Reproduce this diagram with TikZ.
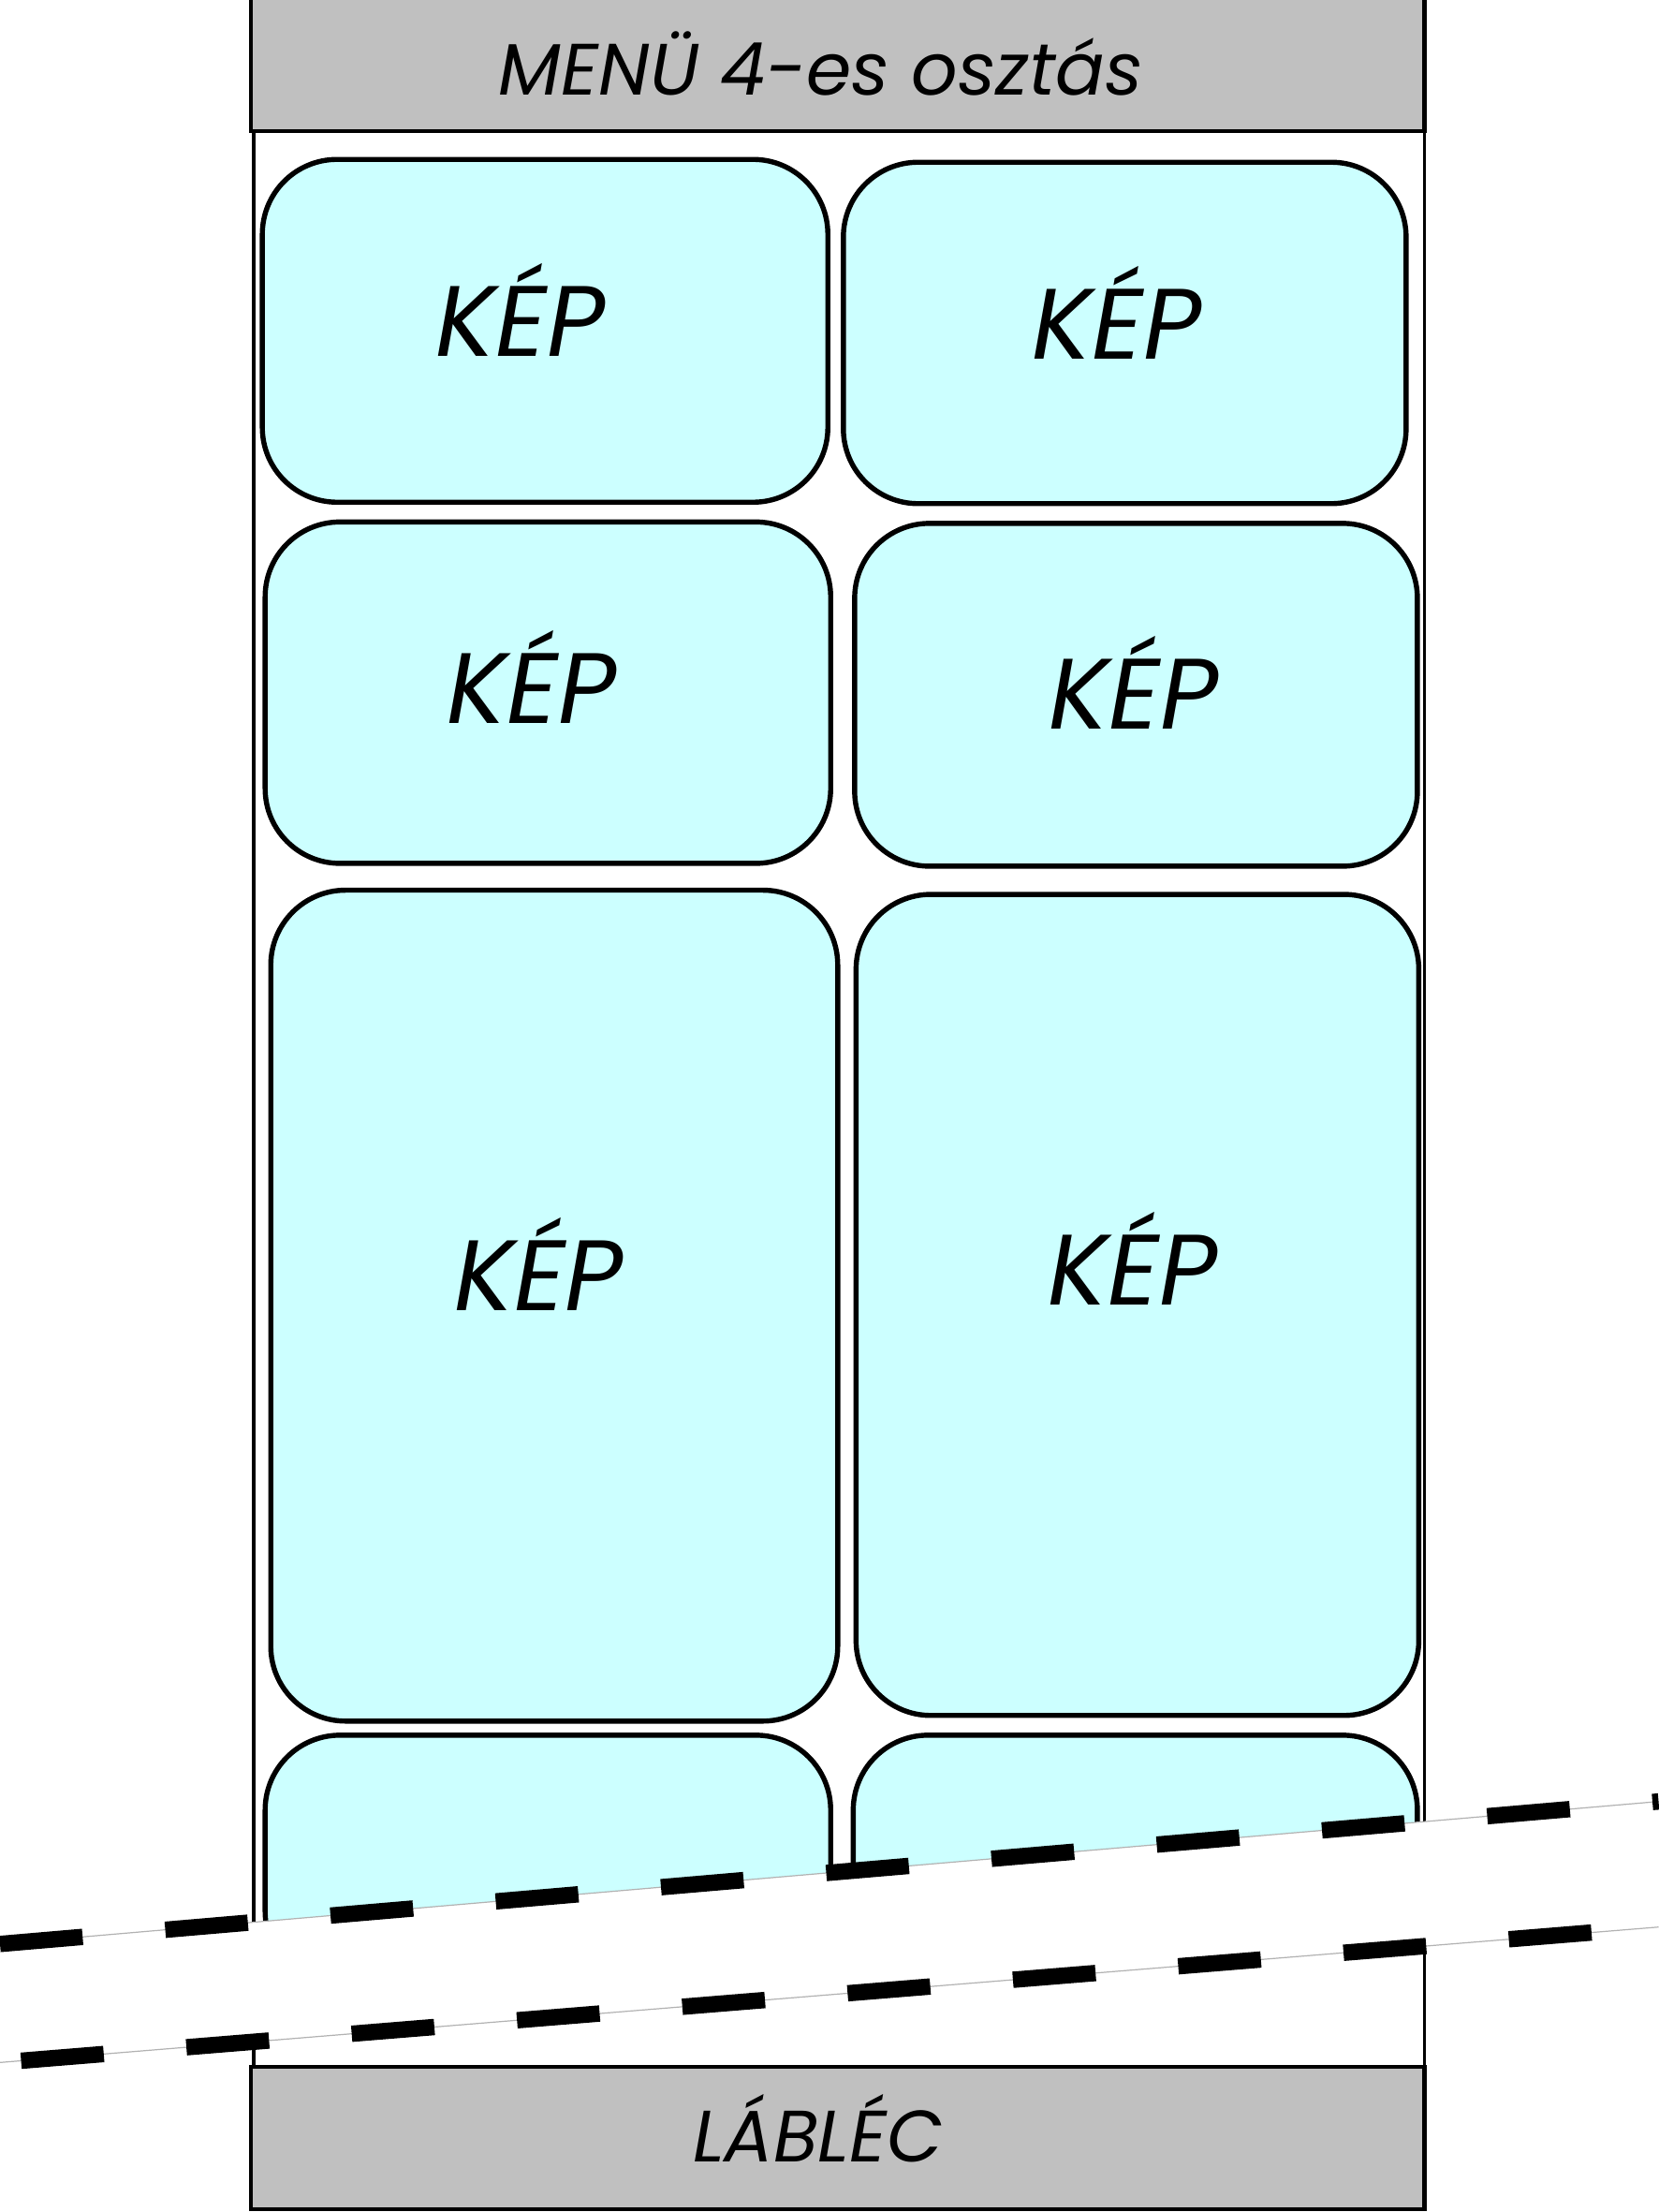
\documentclass[tikz,border=0pt]{standalone}
\usepackage{fontspec}
\newfontfamily\kepfont{Poppins}
\definecolor{kepfill}{HTML}{CCFFFF}
\definecolor{barfill}{HTML}{C0C0C0}
\begin{document}
\begin{tikzpicture}[x=0.5pt,y=-0.5pt,
  kepbox/.style={draw=black, line width=1.8pt, fill=kepfill, rounded corners=26.5pt},
  barbox/.style={draw=black, line width=1.4pt, fill=barfill},
  frameline/.style={draw=black, line width=1.2pt},
  bandfill/.style={fill=white, draw=none},
  bandedge/.style={draw=black!30, line width=0.4pt},
  breakdash/.style={draw=black, line width=5.8pt, dash pattern=on 29.4pt off 29.4pt},
  keptext/.style={font=\kepfont\itshape\fontsize{35.5}{40}\selectfont, inner sep=0pt},
  bartext/.style={font=\kepfont\itshape\fontsize{25.8}{30}\selectfont, inner sep=0pt}]
\useasboundingbox (0,0) rectangle (1176,1568);
% header and footer
\draw[barbox] (178,-4) rectangle (1010,93);
\node[bartext] (menu) at (582,45) {MENÜ 4-es osztás};
\draw[barbox] (178,1465) rectangle (1010,1566);
\node[bartext] (lablec) at (580,1509) {LÁBLÉC};
% body frame
\draw[frameline] (180,93) -- (180,1465);
\draw[frameline] (1010,93) -- (1010,1465);
% picture boxes
\draw[kepbox] (186,113) rectangle (587,356);
\draw[kepbox] (598,115) rectangle (997,357);
\draw[kepbox] (188,370) rectangle (589,612);
\draw[kepbox] (606,371) rectangle (1005,614);
\draw[kepbox] (192,631) rectangle (594,1220);
\draw[kepbox] (607,634) rectangle (1006,1216);
\draw[kepbox] (188,1230) rectangle (589,1408);
\draw[kepbox] (605,1230) rectangle (1005,1378);
\node[keptext] (k1) at (369,220) {KÉP};
\node[keptext] (k2) at (792,222) {KÉP};
\node[keptext] (k3) at (377,480) {KÉP};
\node[keptext] (k4) at (804,484) {KÉP};
\node[keptext] (k5) at (382,896) {KÉP};
\node[keptext] (k6) at (803,892) {KÉP};
% break band
\coordinate (ua) at (0,1378);
\coordinate (ub) at (1176,1277);
\coordinate (la) at (0,1462);
\coordinate (lb) at (1176,1366);
\fill[bandfill] (ua) -- (ub) -- (lb) -- (la) -- cycle;
\draw[bandedge] (ua) -- (ub);
\draw[bandedge] (la) -- (lb);
\draw[breakdash] (ua) -- (ub);
\draw[breakdash, dash phase=51.3pt] (la) -- (lb);
\end{tikzpicture}
\end{document}
